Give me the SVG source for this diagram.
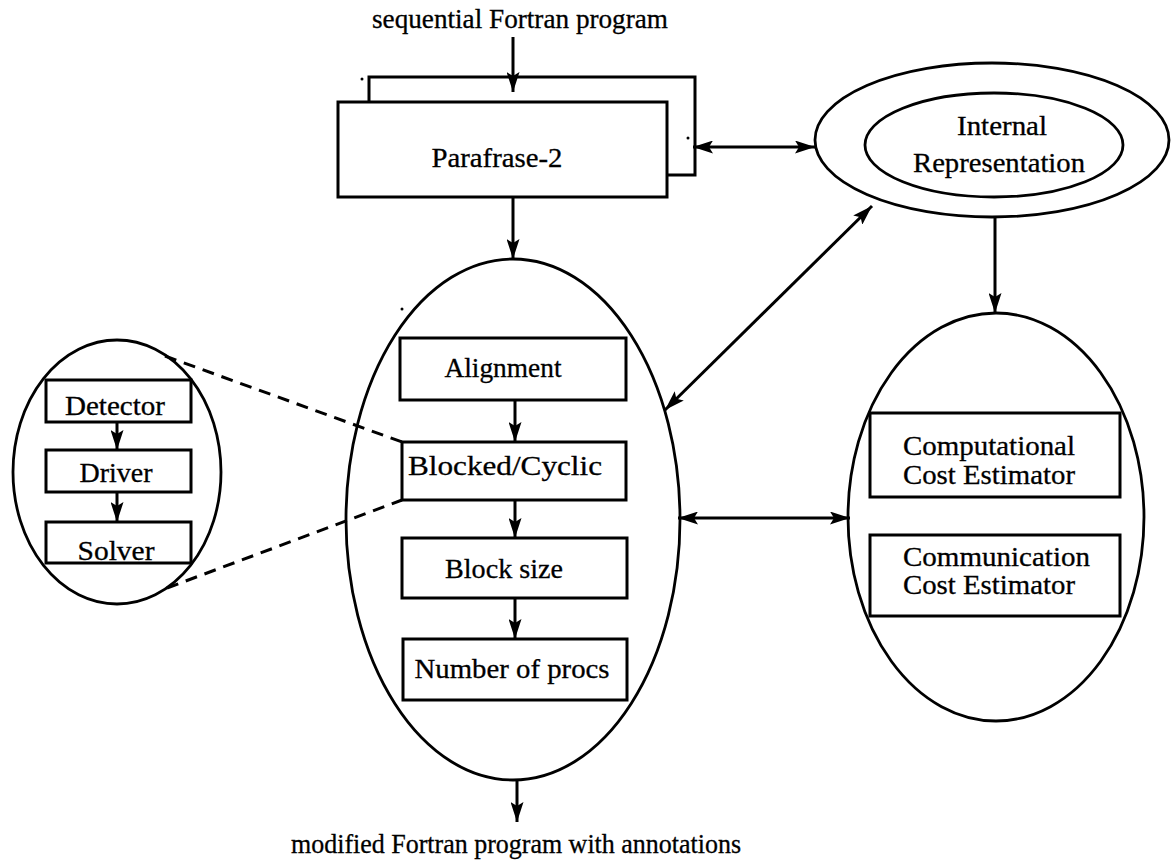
<svg xmlns="http://www.w3.org/2000/svg" width="1171" height="863" viewBox="0 0 1171 863">
<style>
text{font-family:"Liberation Serif","Times New Roman",serif;font-size:27px;fill:#000;stroke:#000;stroke-width:0.3}
.mid{text-anchor:middle}
.sh{fill:none;stroke:#000;stroke-width:2.8}
.bx{fill:#fff;stroke:#000;stroke-width:3}
.ar{fill:none;stroke:#000;stroke-width:3}
.dash{fill:none;stroke:#000;stroke-width:3;stroke-dasharray:12,8}
</style>
<defs>
<marker id="ah" markerUnits="userSpaceOnUse" markerWidth="21" markerHeight="13" refX="20" refY="6.5" orient="auto-start-reverse">
<path d="M0,0 L20,6.5 L0,13 L4,6.5 z" fill="#000"/>
</marker>
</defs>
<rect width="1171" height="863" fill="#fff"/>

<text class="mid" x="520" y="28" textLength="296" lengthAdjust="spacingAndGlyphs">sequential Fortran program</text>
<text class="mid" x="516" y="853" textLength="450" lengthAdjust="spacingAndGlyphs">modified Fortran program with annotations</text>

<g id="parafrase">
<polyline class="bx" points="369,102 369,77 695,77 695,175 667,175" style="fill:none"/>
<rect class="bx" x="338" y="102" width="329" height="95"/>
<text class="mid" x="497" y="167" textLength="131" lengthAdjust="spacingAndGlyphs">Parafrase-2</text>
<circle cx="362" cy="79" r="1.5"/>
<circle cx="688" cy="138" r="1.5"/>
</g>

<g id="internal-representation">
<ellipse class="sh" cx="992" cy="140" rx="177" ry="77"/>
<ellipse class="sh" cx="994" cy="145" rx="129" ry="52"/>
<text class="mid" x="1002" y="135" textLength="90" lengthAdjust="spacingAndGlyphs">Internal</text>
<text class="mid" x="999" y="172" textLength="172" lengthAdjust="spacingAndGlyphs">Representation</text>
</g>

<g id="distribution">
<ellipse class="sh" cx="513" cy="519.5" rx="167" ry="260.5"/>
<circle cx="402" cy="309" r="1.5"/>
</g>
<g id="alignment">
<rect class="bx" x="400" y="338" width="226" height="62"/>
<text class="mid" x="503" y="377" textLength="117" lengthAdjust="spacingAndGlyphs">Alignment</text>
</g>
<g id="blocked-cyclic">
<rect class="bx" x="402" y="442" width="224" height="58"/>
<text class="mid" x="505" y="475" textLength="194" lengthAdjust="spacingAndGlyphs">Blocked/Cyclic</text>
</g>
<g id="block-size">
<rect class="bx" x="402" y="538" width="225" height="60"/>
<text class="mid" x="504" y="578" textLength="118" lengthAdjust="spacingAndGlyphs">Block size</text>
</g>
<g id="number-of-procs">
<rect class="bx" x="403" y="639" width="224" height="61"/>
<text class="mid" x="512" y="678" textLength="195" lengthAdjust="spacingAndGlyphs">Number of procs</text>
</g>

<g id="estimators">
<ellipse class="sh" cx="996" cy="517" rx="148" ry="204"/>
</g>
<g id="computational">
<rect class="bx" x="870" y="413" width="250" height="84"/>
<text x="903" y="455" textLength="172" lengthAdjust="spacingAndGlyphs">Computational</text>
<text x="903" y="484" textLength="172" lengthAdjust="spacingAndGlyphs">Cost Estimator</text>
</g>
<g id="communication">
<rect class="bx" x="870" y="535" width="250" height="81"/>
<text x="903" y="566" textLength="187" lengthAdjust="spacingAndGlyphs">Communication</text>
<text x="903" y="594" textLength="172" lengthAdjust="spacingAndGlyphs">Cost Estimator</text>
</g>

<g id="zoom-detail">
<ellipse class="sh" cx="117" cy="472" rx="104" ry="132"/>
</g>
<g id="detector">
<rect class="bx" x="46" y="380" width="145" height="42"/>
<text class="mid" x="115" y="415" textLength="100" lengthAdjust="spacingAndGlyphs">Detector</text>
</g>
<g id="driver">
<rect class="bx" x="46" y="450" width="145" height="42"/>
<text class="mid" x="116" y="482" textLength="73" lengthAdjust="spacingAndGlyphs">Driver</text>
</g>
<g id="solver">
<rect class="bx" x="46" y="522" width="145" height="41"/>
<text class="mid" x="116" y="560" textLength="77" lengthAdjust="spacingAndGlyphs">Solver</text>
</g>

<g id="connectors">
<line class="ar" x1="513" y1="37" x2="513" y2="92" marker-end="url(#ah)"/>
<line class="ar" x1="693" y1="147" x2="815" y2="147" marker-start="url(#ah)" marker-end="url(#ah)"/>
<line class="ar" x1="513" y1="197" x2="513" y2="259" marker-end="url(#ah)"/>
<line class="ar" x1="872" y1="206" x2="665" y2="410" marker-start="url(#ah)" marker-end="url(#ah)"/>
<line class="ar" x1="995" y1="217" x2="995" y2="313" marker-end="url(#ah)"/>
<line class="ar" x1="678" y1="518" x2="850" y2="518" marker-start="url(#ah)" marker-end="url(#ah)"/>
<line class="ar" x1="515" y1="400" x2="515" y2="442" marker-end="url(#ah)"/>
<line class="ar" x1="515" y1="500" x2="515" y2="538" marker-end="url(#ah)"/>
<line class="ar" x1="515" y1="598" x2="515" y2="639" marker-end="url(#ah)"/>
<line class="ar" x1="517" y1="780" x2="517" y2="822" marker-end="url(#ah)"/>
<line class="ar" x1="117" y1="422" x2="117" y2="450" marker-end="url(#ah)"/>
<line class="ar" x1="117" y1="492" x2="117" y2="522" marker-end="url(#ah)"/>
<line class="dash" x1="165" y1="356" x2="402" y2="442"/>
<line class="dash" x1="167" y1="588" x2="402" y2="500"/>
</g>
</svg>
